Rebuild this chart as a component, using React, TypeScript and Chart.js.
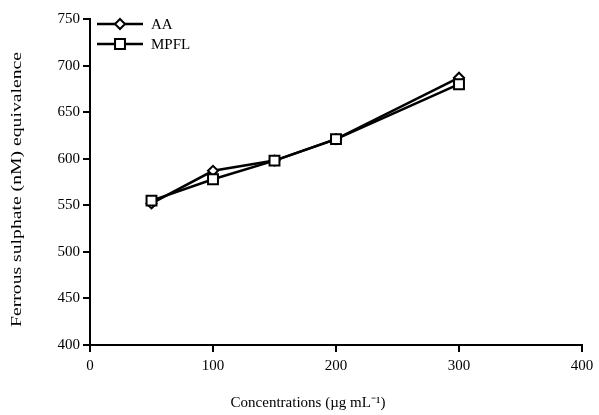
import React, { useEffect, useRef } from "react";
import { Chart, registerables } from "chart.js";

Chart.register(...registerables);

const concentrations = [50, 100, 150, 200, 300];
const aaValues = [552, 587, 598, 621, 687];
const mpflValues = [555, 578, 598, 621, 680];
const seriesNames = ["AA", "MPFL"];
const yTicks = [400, 450, 500, 550, 600, 650, 700, 750];
const xTicks = [0, 100, 200, 300, 400];
const xTitle = "Concentrations (\u00b5g mL\u207b\u00b9)";
const yTitle = "Ferrous sulphate (nM) equivalence";

const FONT = "'Liberation Serif', 'Times New Roman', serif";

function drawMarker(ctx: any, style: string, r: number, x: number, y: number) {
  ctx.beginPath();
  if (style === "rect") {
    const s = r * Math.SQRT1_2;
    ctx.rect(x - s, y - s, 2 * s, 2 * s);
  } else {
    ctx.moveTo(x, y - r);
    ctx.lineTo(x + r, y);
    ctx.lineTo(x, y + r);
    ctx.lineTo(x - r, y);
    ctx.closePath();
  }
  ctx.fill();
  ctx.stroke();
}

const legendPlugin = {
  id: "lineLegend",
  afterDraw(chart: any) {
    const { ctx, chartArea } = chart;
    const items = [
      { label: seriesNames[0], style: "rectRot", radius: 5 },
      { label: seriesNames[1], style: "rect", radius: 7 },
    ];
    ctx.save();
    items.forEach((it, i) => {
      const y = chartArea.top + 5 + i * 20;
      const x0 = chartArea.left + 7;
      const x1 = x0 + 46;
      ctx.strokeStyle = "#000";
      ctx.lineWidth = 2.5;
      ctx.beginPath();
      ctx.moveTo(x0, y);
      ctx.lineTo(x1, y);
      ctx.stroke();
      ctx.fillStyle = "#fff";
      ctx.lineWidth = 2;
      drawMarker(ctx, it.style, it.radius, (x0 + x1) / 2, y);
      ctx.fillStyle = "#000";
      ctx.font = `15px ${FONT}`;
      ctx.textBaseline = "middle";
      ctx.textAlign = "left";
      ctx.fillText(it.label, x1 + 8, y + 1);
    });
    // x-axis title
    ctx.font = `15px ${FONT}`;
    ctx.fillStyle = "#000";
    ctx.textAlign = "center";
    ctx.textBaseline = "middle";
    ctx.fillText(xTitle, 308, 403);
    // y-axis title, stretched along its length to match the reference
    ctx.translate(17, 189.5);
    ctx.rotate(-Math.PI / 2);
    const w = ctx.measureText(yTitle).width;
    ctx.scale(275 / w, 1);
    ctx.fillText(yTitle, 0, 0);
    ctx.restore();
  },
};

export default function App() {
  const ref = useRef<HTMLCanvasElement>(null);
  useEffect(() => {
    if (!ref.current) return;
    const chart = new Chart(ref.current, {
      type: "line",
      data: {
        datasets: [
          {
            label: seriesNames[0],
            data: concentrations.map((c, i) => ({ x: c, y: aaValues[i] })),
            borderColor: "#000",
            borderWidth: 2.5,
            pointStyle: "rectRot",
            pointRadius: 5,
            pointBorderWidth: 2,
            pointBackgroundColor: "#fff",
            pointBorderColor: "#000",
            tension: 0,
            order: 1,
          },
          {
            label: seriesNames[1],
            data: concentrations.map((c, i) => ({ x: c, y: mpflValues[i] })),
            borderColor: "#000",
            borderWidth: 2.5,
            pointStyle: "rect",
            pointRadius: 7,
            pointBorderWidth: 2,
            pointBackgroundColor: "#fff",
            pointBorderColor: "#000",
            tension: 0,
            order: 0,
          },
        ],
      },
      options: {
        animation: false,
        responsive: false,
        maintainAspectRatio: false,
        layout: { padding: { top: 19, right: 17, left: 0, bottom: 0 } },
        plugins: {
          legend: { display: false },
          tooltip: { enabled: false },
        },
        scales: {
          x: {
            type: "linear",
            min: 0,
            max: 400,
            afterBuildTicks: (axis: any) => {
              axis.ticks = xTicks.map((v) => ({ value: v }));
            },
            afterFit: (axis: any) => {
              axis.height = 70;
            },
            grid: { drawOnChartArea: false, drawTicks: true, tickLength: 7, color: "#000", lineWidth: 2 },
            border: { color: "#000", width: 2 },
            ticks: { color: "#000", font: { family: FONT, size: 15 }, padding: 5, maxRotation: 0 },
            title: { display: false },
          },
          y: {
            type: "linear",
            min: 400,
            max: 750,
            afterBuildTicks: (axis: any) => {
              axis.ticks = yTicks.map((v) => ({ value: v }));
            },
            afterFit: (axis: any) => {
              axis.width = 90;
            },
            grid: { drawOnChartArea: false, drawTicks: true, tickLength: 7, color: "#000", lineWidth: 2 },
            border: { color: "#000", width: 2 },
            ticks: { color: "#000", font: { family: FONT, size: 15 }, padding: 3 },
            title: { display: false },
          },
        },
      },
      plugins: [legendPlugin],
    });
    return () => chart.destroy();
  }, []);
  return (
    <div style={{ width: 599, height: 415 }}>
      <style>{`body{margin:0}`}</style>
      <canvas ref={ref} width={599} height={415} style={{ width: 599, height: 415, display: "block" }} />
    </div>
  );
}
